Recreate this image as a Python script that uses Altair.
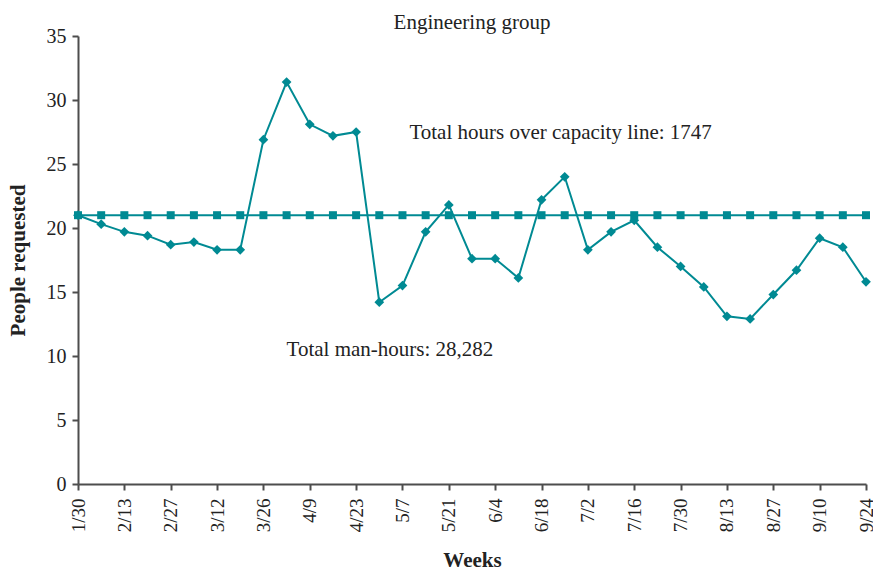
import altair as alt
import pandas as pd

# Week labels shown on the axis (every other week)
week_labels = ["1/30", "2/13", "2/27", "3/12", "3/26", "4/9", "4/23", "5/7", "5/21",
               "6/4", "6/18", "7/2", "7/16", "7/30", "8/13", "8/27", "9/10", "9/24"]

# People requested per week, 1/30 through 9/24
people = [21.0, 20.3, 19.7, 19.4, 18.7, 18.9, 18.3, 18.3, 26.9, 31.4,
          28.1, 27.2, 27.5, 14.2, 15.5, 19.7, 21.8, 17.6, 17.6, 16.1,
          22.2, 24.0, 18.3, 19.7, 20.6, 18.5, 17.0, 15.4, 13.1, 12.9,
          14.8, 16.7, 19.2, 18.5, 15.8]

# Group capacity in people
capacity_level = 21

notes = ["Total hours over capacity line: 1747", "Total man-hours: 28,282"]
note_week = [14.3, 9.0]
note_value = [27.4, 10.5]

TEAL = "#008a93"
AXIS = "#4d4d4d"
INK = "#222222"
FONT = "Liberation Serif"

df = pd.DataFrame({
    "week": list(range(len(people))),
    "people": people,
    "capacity": [capacity_level] * len(people),
})
notes_df = pd.DataFrame({"text": notes, "week": note_week, "value": note_value})

label_array = "[" + ",".join(f"'{w}'" for w in week_labels) + "]"

x_enc = alt.X(
    "week:Q",
    scale=alt.Scale(domain=[0, len(people) - 1], nice=False, zero=False),
    axis=alt.Axis(
        title="Weeks",
        values=list(range(0, len(people), 2)),
        labelExpr=f"{label_array}[round(datum.value / 2)]",
        labelAngle=270,
        labelFontSize=19,
        labelPadding=8,
        titleFontSize=21,
        titleFontWeight="bold",
        titlePadding=18,
        tickSize=6,
        grid=False,
    ),
)
y_scale = alt.Scale(domain=[0, 35], nice=False)
y_axis = alt.Axis(
    title="People requested",
    values=list(range(0, 36, 5)),
    labelFontSize=20,
    labelPadding=6,
    titleFontSize=21,
    titleFontWeight="bold",
    titlePadding=18,
    tickSize=6,
    grid=False,
)

base = alt.Chart(df).encode(x=x_enc)

cap_line = base.mark_line(color=TEAL, strokeWidth=2).encode(
    y=alt.Y("capacity:Q", scale=y_scale, axis=y_axis))
cap_pts = base.mark_point(shape="square", filled=True, size=64, color=TEAL, opacity=1).encode(
    y=alt.Y("capacity:Q", scale=y_scale))
req_line = base.mark_line(color=TEAL, strokeWidth=2).encode(
    y=alt.Y("people:Q", scale=y_scale))
req_pts = base.mark_point(shape="diamond", filled=True, size=95, color=TEAL, opacity=1).encode(
    y=alt.Y("people:Q", scale=y_scale))

text = alt.Chart(notes_df).mark_text(
    align="left", baseline="middle", fontSize=21, font=FONT, color=INK
).encode(
    x=alt.X("week:Q"),
    y=alt.Y("value:Q", scale=y_scale),
    text="text:N",
)

chart = alt.layer(cap_line, cap_pts, req_line, req_pts, text).properties(
    width=788,
    height=448,
    background="white",
    title=alt.TitleParams("Engineering group", fontSize=21, font=FONT,
                          fontWeight="normal", anchor="middle", frame="group",
                          offset=-7, color=INK),
    autosize=alt.AutoSizeParams(type="none"),
    padding={"left": 78, "top": 36, "right": 7, "bottom": 89},
).configure_view(stroke=None).configure_axis(
    domainColor=AXIS, tickColor=AXIS, domainWidth=2, tickWidth=2,
    labelColor=INK, titleColor=INK,
    labelFont=FONT, titleFont=FONT,
)

chart.save("out.html", embed_options={"renderer": "svg", "actions": False})
